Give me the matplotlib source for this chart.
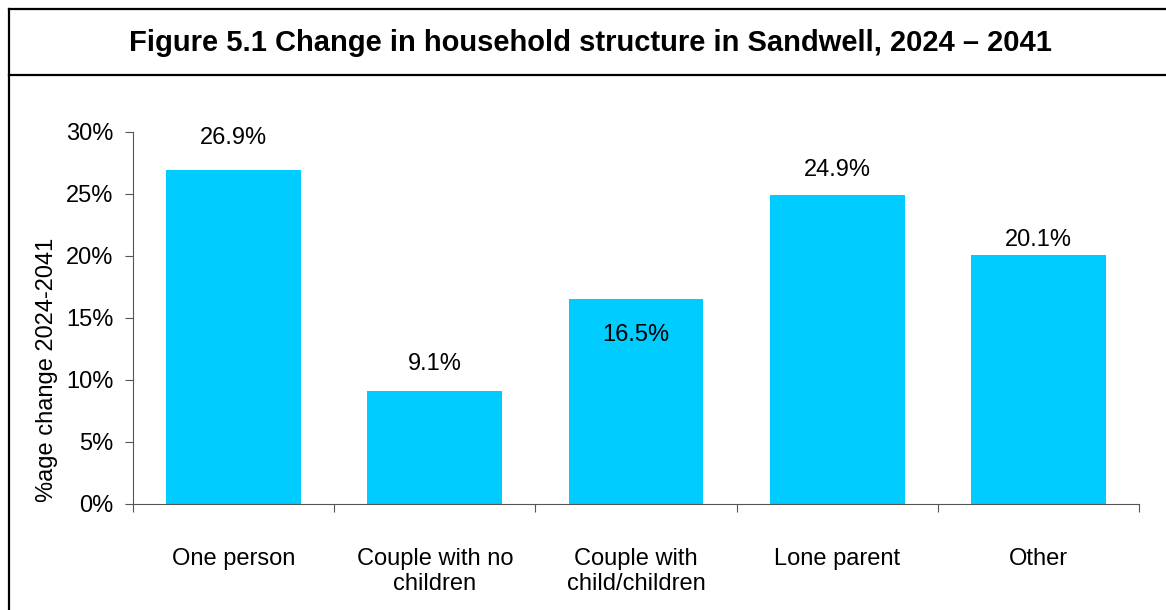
import matplotlib
matplotlib.use("Agg")
import matplotlib.pyplot as plt
from matplotlib.lines import Line2D
import numpy as np

categories = ["One person", "Couple with no\nchildren", "Couple with\nchild/children", "Lone parent", "Other"]
values = [26.9, 9.1, 16.5, 24.9, 20.1]
label_offsets = [2.6, 2.2, -2.9, 2.0, 1.2]  # label shift relative to bar top (in % points)
yticks = [0, 5, 10, 15, 20, 25, 30]

plt.rcParams['font.family'] = ['Liberation Sans', 'DejaVu Sans']

fig = plt.figure(figsize=(11.66, 6.10), dpi=100)
ax = fig.add_axes([133 / 1166, 106 / 610, (1139 - 133) / 1166, (504 - 132) / 610])

x = np.arange(len(categories))
ax.bar(x, values, width=0.67, color="#00CCFF")

for xi, v, off in zip(x, values, label_offsets):
    ax.text(xi, v + off, f"{v:.1f}%", ha="center", va="center", fontsize=17)

ax.set_xlim(-0.5, len(categories) - 0.5)
ax.set_ylim(0, 30)
ax.set_yticks(yticks)
ax.set_yticklabels([f"{t}%" for t in yticks], fontsize=17)
ax.set_xticks(np.arange(len(categories) + 1) - 0.5)
ax.set_xticklabels([])
ax.set_xticks(x, minor=True)
ax.set_xticklabels(categories, minor=True, fontsize=17, linespacing=1.15)
ax.tick_params(axis="x", which="minor", length=0, pad=32)
ax.tick_params(axis="x", which="major", length=6, direction="out", color="#555555")
ax.tick_params(axis="y", length=6, direction="out", color="#555555", pad=8)
ax.spines["top"].set_visible(False)
ax.spines["right"].set_visible(False)
ax.spines["left"].set_color("#555555")
ax.spines["bottom"].set_color("#555555")
ax.set_ylabel("%age change 2024-2041", fontsize=17, labelpad=6, y=0.36)

# frame and title box
y_top = 1 - 9 / 610
y_sep = 1 - 75 / 610
x_left = 9 / 1166
fig.add_artist(Line2D([x_left, 1], [y_top, y_top], color="black", lw=1.6, transform=fig.transFigure))
fig.add_artist(Line2D([x_left, 1], [y_sep, y_sep], color="black", lw=1.6, transform=fig.transFigure))
fig.add_artist(Line2D([x_left, x_left], [0, y_top], color="black", lw=1.6, transform=fig.transFigure))
fig.text(590 / 1166, 1 - 43 / 610, "Figure 5.1 Change in household structure in Sandwell, 2024 \u2013 2041",
         ha="center", va="center", fontsize=21, fontweight="bold")

plt.savefig("out.png", dpi=100)
